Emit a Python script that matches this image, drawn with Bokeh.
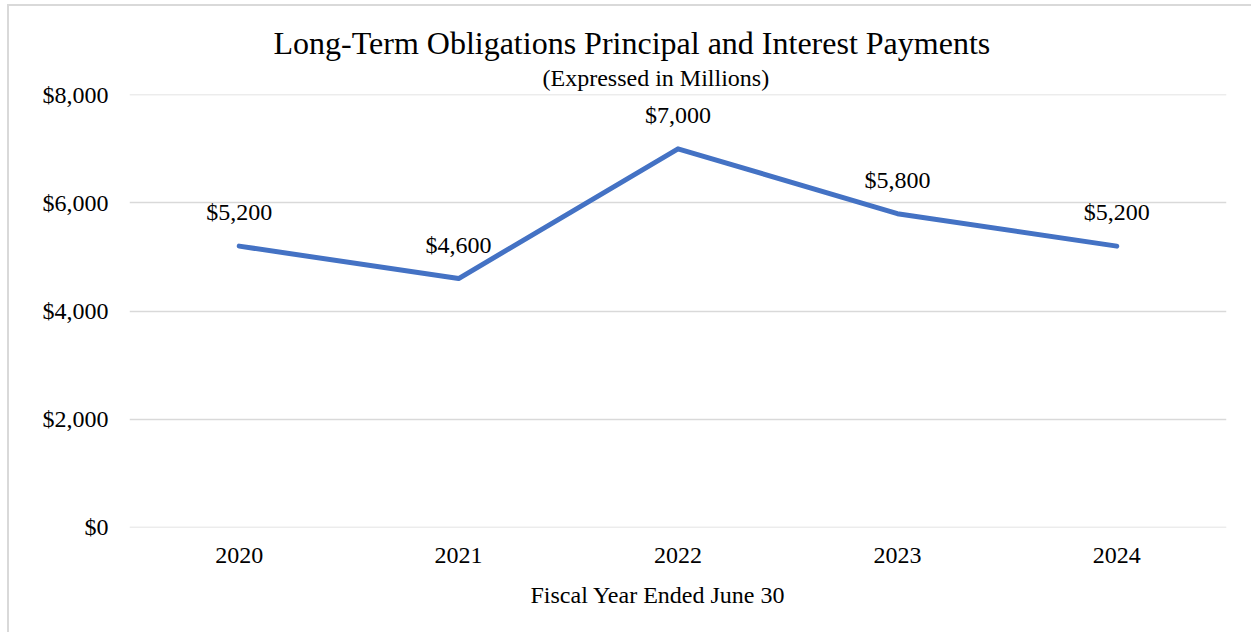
from bokeh.plotting import figure
from bokeh.models import (FactorRange, Range1d, Title, FixedTicker, NumeralTickFormatter,
                          ColumnDataSource)
from bokeh.core.properties import value
from bokeh.embed import file_html
from bokeh.resources import INLINE

years = ["2020", "2021", "2022", "2023", "2024"]
payments = [5200, 4600, 7000, 5800, 5200]
y_ticks = [0, 2000, 4000, 6000, 8000]
title_text = "Long-Term Obligations Principal and Interest Payments"
subtitle_text = "(Expressed in Millions)"
x_title = "Fiscal Year Ended June 30"

FONT = "Liberation Serif"

src = ColumnDataSource(dict(x=years, y=payments, lab=[f"${v:,}" for v in payments]))

p = figure(width=1244, height=628, x_range=FactorRange(*years), y_range=Range1d(-4, 8004),
           output_backend="svg", toolbar_location=None, title=None,
           min_border_left=120, min_border_right=27, min_border_bottom=107, min_border_top=88)
p.margin = (4, 0, 0, 7)
p.styles = {"border-left": "2px solid #d9d9d9", "border-top": "2px solid #d9d9d9"}
p.outline_line_color = None
p.background_fill_color = "white"
p.border_fill_color = "white"

p.add_layout(Title(text=subtitle_text, align="left", text_font=FONT, text_font_size="24px",
                   text_font_style="normal", text_color="black", standoff=7, offset=413),
             "above")
p.add_layout(Title(text=title_text, align="left", text_font=FONT, text_font_size="32px",
                   text_font_style="normal", text_color="black", standoff=-2, offset=144),
             "above")
p.add_layout(Title(text=x_title, align="left", text_font=FONT, text_font_size="24px",
                   text_font_style="normal", text_color="black", standoff=28, offset=401),
             "below")

p.line("x", "y", source=src, line_color="#4472C4", line_width=5, line_join="round",
       line_cap="round")
p.text("x", "y", text="lab", source=src, text_font=value(FONT), text_font_size="24px",
       text_align="center", text_baseline="bottom", y_offset=-21, text_color="black")

p.yaxis.ticker = FixedTicker(ticks=y_ticks)
p.yaxis.formatter = NumeralTickFormatter(format="$0,0")
for ax in (p.xaxis[0], p.yaxis[0]):
    ax.axis_line_color = None
    ax.major_tick_line_color = None
    ax.minor_tick_line_color = None
    ax.major_tick_out = 0
    ax.major_tick_in = 0
    ax.major_label_text_font = FONT
    ax.major_label_text_font_size = "24px"
    ax.major_label_text_color = "black"
p.yaxis.major_label_standoff = 21
p.xaxis.major_label_standoff = 20

p.xgrid.grid_line_color = None
p.ygrid.grid_line_color = "#d9d9d9"
p.ygrid.grid_line_width = 1.5
p.ygrid.ticker = FixedTicker(ticks=y_ticks)

open("out.html", "w").write(file_html(p, INLINE))
